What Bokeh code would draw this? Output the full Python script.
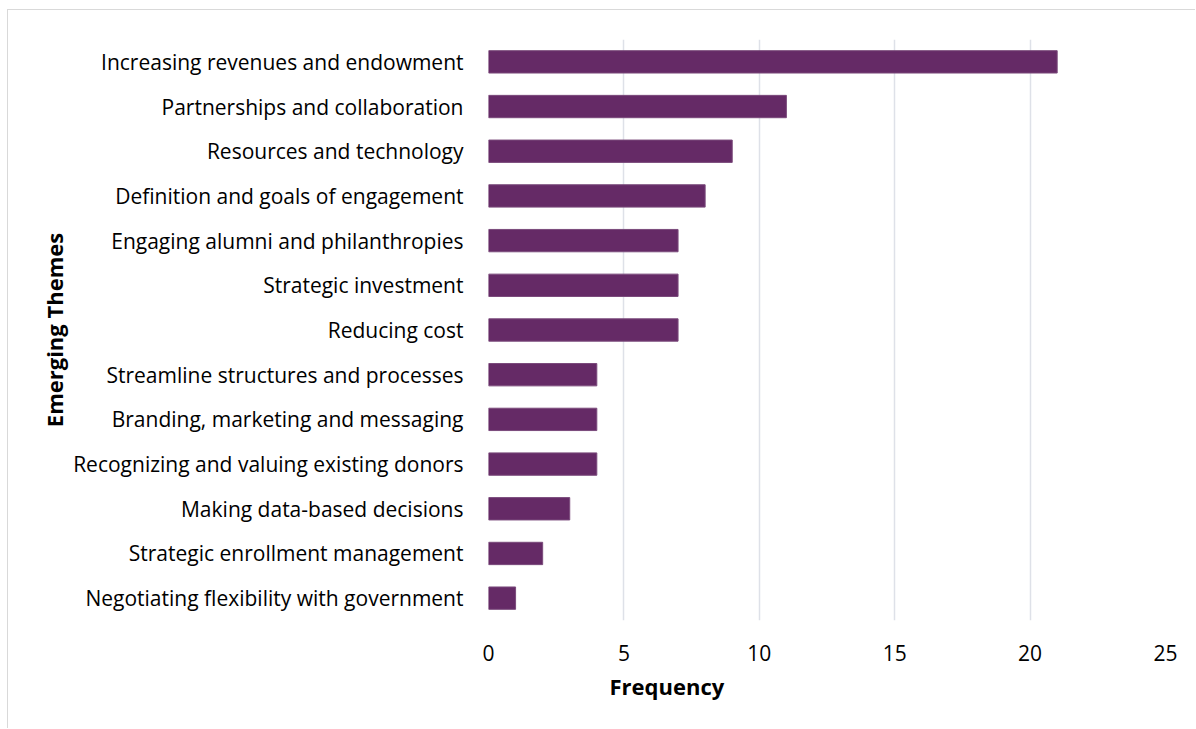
from bokeh.plotting import figure
from bokeh.models import FactorRange, FixedTicker, Title
from bokeh.embed import file_html
from bokeh.resources import INLINE

themes = [
    "Increasing revenues and endowment",
    "Partnerships and collaboration",
    "Resources and technology",
    "Definition and goals of engagement",
    "Engaging alumni and philanthropies",
    "Strategic investment",
    "Reducing cost",
    "Streamline structures and processes",
    "Branding, marketing and messaging",
    "Recognizing and valuing existing donors",
    "Making data-based decisions",
    "Strategic enrollment management",
    "Negotiating flexibility with government",
]
frequency = [21, 11, 9, 8, 7, 7, 7, 4, 4, 4, 3, 2, 1]
x_ticks = [0, 5, 10, 15, 20, 25]

FONT = "Open Sans"
BAR = "#652A66"
GRID = "#DEE1E8"

p = figure(
    width=1188, height=719,
    y_range=FactorRange(factors=list(reversed(themes)), range_padding=0),
    x_range=(0, 25),
    output_backend="svg", toolbar_location=None,
    min_border_left=480, min_border_right=31,
    min_border_top=29, min_border_bottom=109,
    styles={"margin-left": "7px", "margin-top": "9px",
            "border-left": "1px solid #D9D9D9",
            "border-top": "1px solid #D9D9D9"},
)
p.hbar(y=themes, right=frequency, left=0, height=0.5,
       fill_color=BAR, line_color="#7A4A7B", line_width=1)

p.outline_line_color = None
p.background_fill_color = "white"
p.border_fill_color = "white"

p.ygrid.grid_line_color = None
p.xgrid.grid_line_color = GRID
p.xgrid.grid_line_width = 1.5
p.xaxis.ticker = FixedTicker(ticks=x_ticks)

for ax in (p.xaxis[0], p.yaxis[0]):
    ax.axis_line_color = None
    ax.major_tick_line_color = None
    ax.minor_tick_line_color = None
    ax.major_label_text_font = FONT
    ax.major_label_text_font_size = "21px"
    ax.major_label_text_color = "#000000"

p.yaxis.major_label_standoff = 19
p.xaxis.major_label_standoff = 18

p.yaxis.axis_label = "Emerging Themes"
p.yaxis.axis_label_text_font = FONT
p.yaxis.axis_label_text_font_size = "22px"
p.yaxis.axis_label_text_font_style = "bold"
p.yaxis.axis_label_text_color = "#000000"
p.yaxis.axis_label_standoff = 1

p.add_layout(Title(text="Frequency", align="left", offset=121,
                   text_font=FONT, text_font_size="22px",
                   text_font_style="bold", text_color="#000000"), "below")

open("out.html", "w").write(file_html(p, INLINE))
